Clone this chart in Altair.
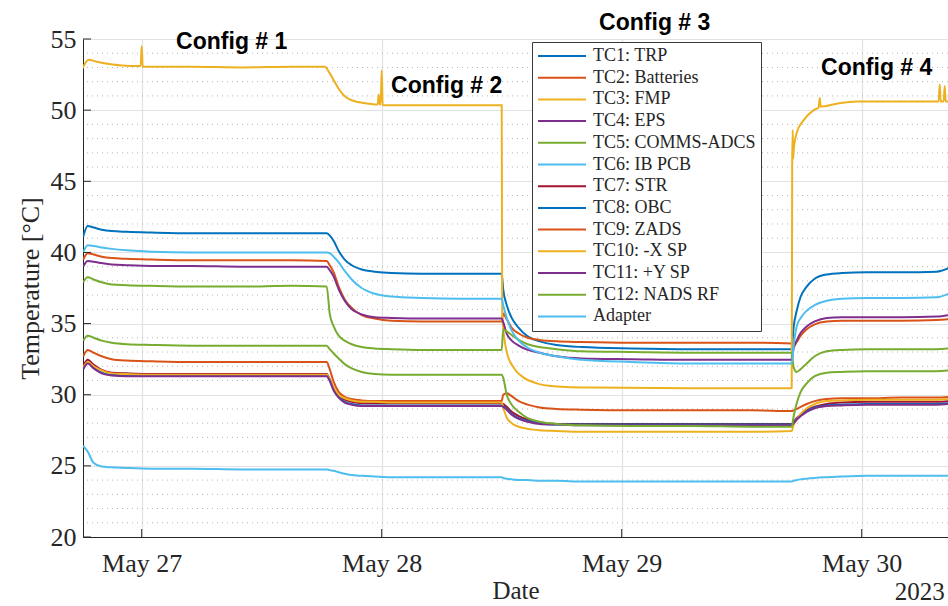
import altair as alt
import pandas as pd

# Thermocouple readings, hours relative to 2023-05-27 00:00
SERIES = ["TC1: TRP", "TC2: Batteries", "TC3: FMP", "TC4: EPS", "TC5: COMMS-ADCS",
          "TC6: IB PCB", "TC7: STR", "TC8: OBC", "TC9: ZADS", "TC10: -X SP",
          "TC11: +Y SP", "TC12: NADS RF", "Adapter"]
COLORS = ["#0072BD", "#D95319", "#EDB120", "#7E2F8E", "#77AC30", "#4DBEEE", "#A2142F",
          "#0072BD", "#D95319", "#EDB120", "#7E2F8E", "#77AC30", "#4DBEEE"]

HOURS = [
    -5.85, -5.4, -4.8, -4.0, -3.0, -1.5, 1.0, 5.0, 10.0, 15.0, 18.5,
    18.8, 19.2, 19.7, 20.3, 21.0, 22.0, 23.3, 25.0, 28.0, 32.0, 36.0,
    36.15, 36.5, 37.0, 37.7, 38.6, 39.8, 41.5, 44.0, 49.0, 55.0, 61.0, 65.0,
    65.2, 65.5, 65.9, 66.5, 67.3, 68.5, 70.0, 72.5, 76.0, 79.5, 80.7,
]

TC1 = [41.1, 41.85, 41.75, 41.6, 41.5, 41.45, 41.4, 41.35, 41.35, 41.35, 41.35,
       41.2, 40.8, 40.1, 39.5, 39.1, 38.8, 38.65, 38.55, 38.5, 38.5, 38.5,
       37.4, 36.3, 35.4, 34.7, 34.1, 33.75, 33.5, 33.35, 33.25, 33.2, 33.2, 33.2,
       34.8, 35.9, 36.9, 37.6, 38.15, 38.45, 38.55, 38.6, 38.6, 38.65, 38.9]
TC2 = [39.5, 39.95, 39.85, 39.7, 39.6, 39.55, 39.5, 39.45, 39.45, 39.45, 39.4,
       39.1, 38.6, 37.6, 36.7, 36.1, 35.6, 35.35, 35.2, 35.15, 35.15, 35.15,
       35.7, 35.3, 34.7, 34.3, 34.0, 33.85, 33.75, 33.7, 33.65, 33.65, 33.65, 33.6,
       33.4, 33.7, 34.15, 34.6, 34.95, 35.15, 35.2, 35.2, 35.2, 35.25, 35.3]
TC4 = [39.0, 39.4, 39.35, 39.25, 39.15, 39.1, 39.05, 39.05, 39.0, 39.0, 39.0,
       38.75, 38.3, 37.4, 36.6, 36.0, 35.65, 35.45, 35.4, 35.35, 35.35, 35.35,
       35.1, 34.3, 33.8, 33.45, 33.15, 32.95, 32.7, 32.55, 32.5, 32.45, 32.45, 32.45,
       33.3, 33.8, 34.35, 34.8, 35.15, 35.4, 35.45, 35.45, 35.45, 35.5, 35.6]
TC5 = [37.9, 38.25, 38.1, 37.9, 37.75, 37.7, 37.65, 37.6, 37.6, 37.65, 37.6,
       35.7, 34.8, 34.15, 33.8, 33.55, 33.35, 33.25, 33.2, 33.15, 33.15, 33.15,
       34.6, 34.45, 34.2, 33.85, 33.55, 33.35, 33.2, 33.05, 33.0, 32.95, 32.95, 32.95,
       31.9, 31.6, 31.8, 32.2, 32.7, 33.05, 33.15, 33.2, 33.2, 33.2, 33.25]
TC6 = [40.0, 40.5, 40.45, 40.35, 40.25, 40.15, 40.05, 40.0, 40.0, 40.0, 40.0,
       39.95, 39.7, 39.3, 38.7, 38.1, 37.5, 37.1, 36.9, 36.8, 36.75, 36.75,
       36.3, 35.4, 34.5, 33.8, 33.3, 32.95, 32.7, 32.45, 32.3, 32.2, 32.2, 32.2,
       33.5, 34.8, 35.4, 35.9, 36.3, 36.6, 36.75, 36.8, 36.8, 36.85, 37.1]
TC7 = [32.0, 32.45, 32.1, 31.75, 31.55, 31.5, 31.45, 31.45, 31.45, 31.45, 31.45,
       31.1, 30.4, 29.95, 29.65, 29.5, 29.4, 29.4, 29.4, 29.4, 29.4, 29.4,
       29.35, 29.15, 28.8, 28.5, 28.25, 28.05, 27.95, 27.95, 27.95, 27.95, 27.95, 27.95,
       28.1, 28.35, 28.6, 28.9, 29.15, 29.35, 29.45, 29.5, 29.5, 29.5, 29.55]
TC8 = [31.8, 32.25, 31.9, 31.55, 31.4, 31.35, 31.35, 31.35, 31.35, 31.35, 31.35,
       31.0, 30.35, 29.85, 29.5, 29.35, 29.25, 29.25, 29.25, 29.25, 29.25, 29.25,
       29.2, 29.0, 28.65, 28.35, 28.15, 28.0, 27.9, 27.9, 27.9, 27.9, 27.9, 27.9,
       28.05, 28.3, 28.55, 28.85, 29.1, 29.25, 29.3, 29.35, 29.35, 29.35, 29.4]
TC9 = [32.7, 33.15, 32.95, 32.7, 32.5, 32.4, 32.35, 32.3, 32.3, 32.3, 32.3,
       31.8, 30.9, 30.2, 29.85, 29.7, 29.6, 29.55, 29.55, 29.55, 29.55, 29.55,
       30.0, 30.1, 29.9, 29.55, 29.3, 29.1, 29.0, 28.95, 28.9, 28.9, 28.9, 28.85,
       28.9, 29.0, 29.15, 29.35, 29.55, 29.7, 29.75, 29.75, 29.8, 29.8, 29.85]
TC10 = [31.9, 32.3, 32.0, 31.7, 31.5, 31.45, 31.4, 31.4, 31.4, 31.4, 31.4,
        31.1, 30.5, 30.0, 29.75, 29.6, 29.5, 29.5, 29.45, 29.45, 29.45, 29.45,
        29.1, 28.4, 28.0, 27.75, 27.6, 27.5, 27.45, 27.4, 27.4, 27.4, 27.4, 27.45,
        27.9, 28.25, 28.65, 29.05, 29.35, 29.55, 29.6, 29.65, 29.65, 29.65, 29.7]
TC11 = [31.8, 32.2, 31.85, 31.5, 31.35, 31.3, 31.3, 31.3, 31.3, 31.3, 31.3,
        31.0, 30.3, 29.8, 29.45, 29.3, 29.2, 29.2, 29.2, 29.2, 29.2, 29.2,
        29.15, 28.95, 28.6, 28.3, 28.1, 27.95, 27.9, 27.85, 27.85, 27.85, 27.85, 27.85,
        28.0, 28.25, 28.5, 28.8, 29.05, 29.2, 29.25, 29.3, 29.3, 29.3, 29.35]
TC12 = [33.8, 34.15, 34.0, 33.8, 33.65, 33.55, 33.5, 33.45, 33.45, 33.45, 33.45,
        33.2, 32.9, 32.55, 32.15, 31.85, 31.6, 31.45, 31.4, 31.4, 31.4, 31.4,
        31.2, 30.0, 29.3, 28.8, 28.35, 28.1, 27.95, 27.85, 27.8, 27.8, 27.75, 27.75,
        28.5, 29.4, 30.2, 30.8, 31.3, 31.55, 31.6, 31.65, 31.65, 31.65, 31.7]
ADAPTER = [26.4, 26.0, 25.2, 24.95, 24.9, 24.85, 24.8, 24.8, 24.75, 24.75, 24.75,
           24.7, 24.65, 24.55, 24.45, 24.35, 24.3, 24.25, 24.2, 24.2, 24.2, 24.2,
           24.15, 24.1, 24.05, 24.0, 24.0, 23.95, 23.95, 23.9, 23.9, 23.9, 23.9, 23.9,
           23.95, 24.0, 24.05, 24.1, 24.15, 24.2, 24.25, 24.3, 24.3, 24.3, 24.3]

# FMP has its own sampling: it carries the sharp steps and sensor spikes
TC3_HOURS = [-5.95, -5.3, -4.5, -2.9, -1.2, -0.1, 0.0, 0.1, 5.0, 10.0, 15.0,
             18.3, 18.8, 19.2, 19.7, 20.2, 20.8, 21.8, 22.8, 23.6, 23.7, 23.8,
             23.9, 24.0, 24.1, 28.0, 32.0, 36.0, 36.05, 36.16, 36.5, 37.2, 38.2,
             39.5, 41.2, 45.0, 55.0, 64.95, 65.0, 65.05, 65.1, 65.15, 65.2, 65.5,
             66.2, 67.2, 67.7, 67.8, 67.9, 69.5, 71.5, 76.0, 79.7, 79.8, 79.9,
             80.2, 80.3, 80.4, 80.7]
TC3 = [52.9, 53.55, 53.4, 53.2, 53.1, 53.1, 54.5, 53.05, 53.05, 53.0, 53.05,
       53.05, 52.6, 52.1, 51.5, 51.05, 50.75, 50.55, 50.45, 50.4, 51.1, 50.4,
       50.4, 52.8, 50.35, 50.35, 50.35, 50.35, 35.5, 34.6, 33.0, 31.9, 31.2,
       30.8, 30.6, 30.5, 30.45, 30.45, 30.5, 46.3, 48.6, 46.6, 47.2, 48.4,
       49.3, 50.0, 50.2, 50.85, 50.25, 50.45, 50.6, 50.6, 50.6, 51.8, 50.6,
       50.6, 51.7, 50.6, 50.6]

VALUES = {"TC1: TRP": TC1, "TC2: Batteries": TC2, "TC4: EPS": TC4,
          "TC5: COMMS-ADCS": TC5, "TC6: IB PCB": TC6, "TC7: STR": TC7,
          "TC8: OBC": TC8, "TC9: ZADS": TC9, "TC10: -X SP": TC10,
          "TC11: +Y SP": TC11, "TC12: NADS RF": TC12, "Adapter": ADAPTER}

CONFIG_LABELS = ["Config # 1", "Config # 2", "Config # 3", "Config # 4"]
CONFIG_HOURS = [9.0, 30.5, 51.3, 73.5]
CONFIG_TEMPS = [54.8, 51.7, 56.1, 52.95]

Y_TICKS = [20, 25, 30, 35, 40, 45, 50, 55]
Y_MINOR = [v for v in range(21, 55) if v % 5]
X_TICK_DAYS = [27, 28, 29, 30]

BASE = pd.Timestamp("2023-05-27")


def to_time(hours):
    return BASE + pd.to_timedelta(hours, unit="h")


frames = []
for name in SERIES:
    hrs, vals = (TC3_HOURS, TC3) if name == "TC3: FMP" else (HOURS, VALUES[name])
    frames.append(pd.DataFrame({"series": name, "time": to_time(hrs), "temp": vals}))
lines_df = pd.concat(frames, ignore_index=True)

labels_df = pd.DataFrame({"label": CONFIG_LABELS, "time": to_time(CONFIG_HOURS),
                          "temp": CONFIG_TEMPS})
ytick_df = pd.DataFrame({"temp": Y_TICKS})
yminor_df = pd.DataFrame({"temp": Y_MINOR})
xtick_df = pd.DataFrame({"time": [pd.Timestamp(2023, 5, d) for d in X_TICK_DAYS]})
year_df = pd.DataFrame({"time": [to_time(80.3)], "label": ["2023"]})

W, H = 865, 498
SERIF = "Liberation Serif"
INK = "#262626"

x_scale = alt.Scale(domain=[alt.DateTime(year=2023, month=5, date=26, hours=18, minutes=7, seconds=48),
                            alt.DateTime(year=2023, month=5, date=30, hours=8, minutes=37, seconds=48)])
y_scale = alt.Scale(domain=[20, 55], nice=False, zero=False)

x_axis = alt.Axis(values=[alt.DateTime(year=2023, month=5, date=d) for d in X_TICK_DAYS],
                  format="%b %d", title="Date", labelFont=SERIF, labelFontSize=26,
                  titleFont=SERIF, titleFontSize=25, titleFontWeight="normal",
                  labelColor=INK, titleColor=INK, domainColor=INK, ticks=False,
                  labelPadding=13, titlePadding=2, grid=True, gridColor="#e2e2e2",
                  gridWidth=1.2, labelFlush=False)
y_axis = alt.Axis(values=Y_TICKS, title="Temperature [°C]", labelFont=SERIF,
                  labelFontSize=26, titleFont=SERIF, titleFontSize=26,
                  titleFontWeight="normal", labelColor=INK, titleColor=INK,
                  domainColor=INK, ticks=False, labelPadding=7, titlePadding=7,
                  grid=True, gridColor="#e2e2e2", gridWidth=1.2)

minor_grid = alt.Chart(yminor_df).mark_rule(color="#b5b5b5", strokeDash=[1, 4],
                                            strokeWidth=1).encode(
    y=alt.Y("temp:Q", scale=y_scale, axis=y_axis),
)

lines = alt.Chart(lines_df).mark_line(strokeWidth=2, interpolate="monotone", clip=True).encode(
    x=alt.X("time:T", scale=x_scale, axis=x_axis),
    y=alt.Y("temp:Q", scale=y_scale),
    color=alt.Color("series:N", sort=SERIES,
                    scale=alt.Scale(domain=SERIES, range=COLORS),
                    legend=alt.Legend(orient="none", legendX=449, legendY=3, title=None,
                                      symbolType="M-1,0L5,0", symbolSize=256,
                                      symbolStrokeWidth=2, labelFont=SERIF,
                                      labelFontSize=18, labelColor=INK, labelOffset=38,
                                      rowPadding=3.7, padding=5, strokeColor="#3a3a3a",
                                      fillColor="white", labelLimit=400)),
    order=alt.value(0),
)

y_ticks = alt.Chart(ytick_df).mark_rule(color=INK, strokeWidth=1).encode(
    y="temp:Q", x=alt.value(0), x2=alt.value(8))
x_ticks = alt.Chart(xtick_df).mark_rule(color=INK, strokeWidth=1).encode(
    x="time:T", y=alt.value(H), y2=alt.value(H - 8))

config_text = alt.Chart(labels_df).mark_text(font="Liberation Sans", fontWeight="bold",
                                             fontSize=23, color="black",
                                             baseline="middle").encode(
    x="time:T", y="temp:Q", text="label:N")

year_text = alt.Chart(year_df).mark_text(font=SERIF, fontSize=25, color=INK,
                                         align="right", baseline="middle").encode(
    x="time:T", y=alt.value(H + 55), text="label:N")

chart = alt.layer(minor_grid, lines, y_ticks, x_ticks, config_text, year_text).properties(
    width=W, height=H,
    autosize=alt.AutoSizeParams(type="none"),
    padding={"left": 83, "top": 39, "right": 0, "bottom": 69},
    background="white",
).configure_view(stroke=None)

chart.save("out.html", embed_options={"renderer": "svg", "actions": False})
